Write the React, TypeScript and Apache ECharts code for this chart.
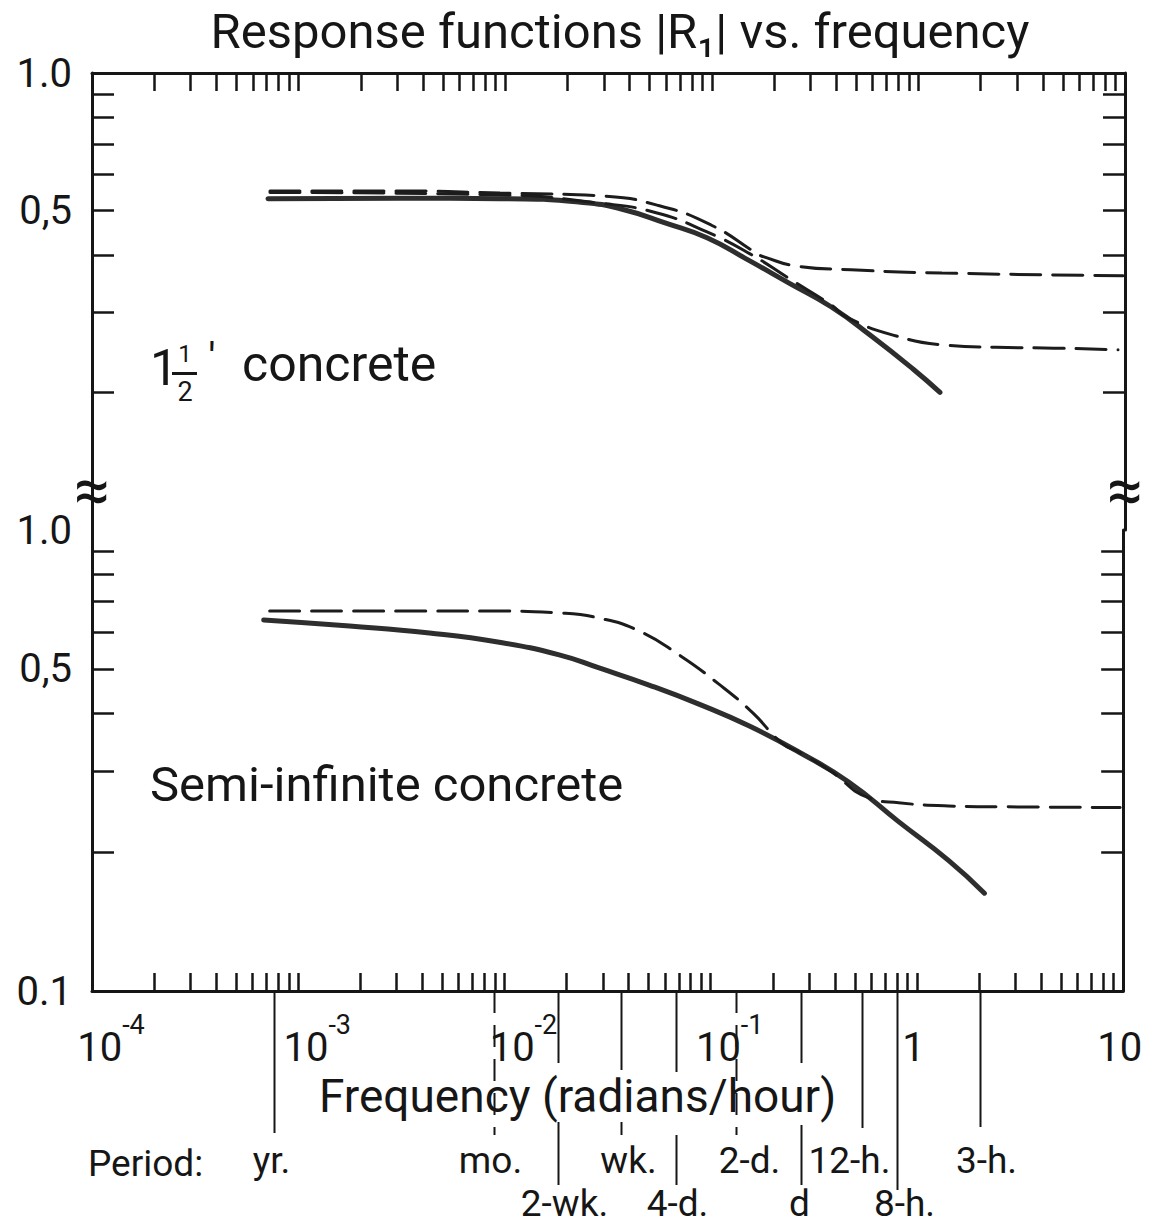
import React, { useEffect, useRef } from 'react';
import * as echarts from 'echarts';

const FONT = 'Roboto, "Liberation Sans", sans-serif';
const INK = '#161616';

const TITLE = 'Response functions |R₁| vs. frequency';
const X_NAME = 'Frequency (radians/hour)';
const TOP_PANEL_LABEL = 'concrete';
const BOTTOM_PANEL_LABEL = 'Semi-infinite concrete';
const PERIOD_HEADER = 'Period:';

// axis ticks / labels
const xDecades = [1e-4, 1e-3, 1e-2, 1e-1, 1];
const xMultipliers = [1, 2, 3, 4, 5, 6, 7, 8, 9];
const xLabelValues = [1e-4, 1e-3, 1e-2, 1e-1, 1, 10];
const yTickValues = [0.2, 0.3, 0.4, 0.5, 0.6, 0.7, 0.8, 0.9];
const yLabelValuesTop = [0.5, 1];
const yLabelValuesBottom = [0.1, 0.5, 1];

// 1 1/2' concrete panel
const topSolidFreq = [7.11e-4, 3.1e-3, 9.44e-3, 0.0238, 0.0376, 0.0594, 0.0948, 0.1497, 0.2365, 0.3775, 0.5963, 0.9417, 1.272];
const topSolidR = [0.531, 0.532, 0.531, 0.521, 0.502, 0.47, 0.436, 0.39, 0.347, 0.308, 0.265, 0.225, 0.2];
const topDashAFreq = [7.27e-4, 3.1e-3, 9.44e-3, 0.0297, 0.0543, 0.0991, 0.1637, 0.1789, 0.2585, 0.4719, 1.301, 9.79];
const topDashAR = [0.552, 0.552, 0.546, 0.538, 0.514, 0.465, 0.404, 0.396, 0.378, 0.371, 0.365, 0.36];
const topDashBFreq = [7.27e-4, 9.44e-3, 0.0288, 0.0543, 0.0948, 0.1531, 0.239, 0.3775, 0.4512, 0.7536, 1.33, 2.375, 4.532, 9.25];
const topDashBR = [0.548, 0.541, 0.519, 0.494, 0.449, 0.402, 0.354, 0.311, 0.292, 0.267, 0.254, 0.251, 0.25, 0.248];

// semi-infinite concrete panel
const botSolidFreq = [6.8e-4, 1.774e-3, 4.325e-3, 9.44e-3, 0.01842, 0.02876, 0.05022, 0.08768, 0.1531, 0.2673, 0.4666, 0.8145, 1.422, 2.124];
const botSolidR = [0.638, 0.619, 0.598, 0.571, 0.536, 0.502, 0.461, 0.419, 0.376, 0.33, 0.284, 0.233, 0.192, 0.163];
const botDashFreq = [7.27e-4, 3.095e-3, 9.44e-3, 0.01842, 0.02876, 0.04493, 0.07017, 0.1096, 0.16, 0.2212, 0.2673, 0.3734, 0.5898, 0.8145, 1.422, 2.483, 9.67];
const botDashR = [0.667, 0.667, 0.667, 0.661, 0.644, 0.604, 0.536, 0.463, 0.401, 0.345, 0.33, 0.302, 0.262, 0.256, 0.252, 0.251, 0.25];

// period markers under the frequency axis
const periodNames = ['yr.', 'mo.', '2-wk.', 'wk.', '4-d.', '2-d.', 'd', '12-h.', '8-h.', '3-h.'];
const periodFreqs = [7.6e-4, 8.9e-3, 0.0182, 0.0367, 0.0679, 0.132, 0.273, 0.539, 0.797, 2.03];
const periodRow = [0, 0, 1, 0, 1, 0, 1, 0, 1, 0];
const periodDashed = [false, true, false, false, false, true, false, false, false, false];
const periodGuides = [
  [[0, 142]], [[0, 144]], [[0, 72], [131, 194]], [[0, 79], [131, 144]], [[0, 81], [144, 194]],
  [[0, 144]], [[0, 72], [134, 194]], [[0, 137]], [[0, 199]], [[0, 136]],
];
const periodLabelDx = [-3, -4, 6, 7, 1, 13, -2, -13, 7, 6];
const periodRowY = [169, 212];

const pairs = (xs: number[], ys: number[]) => xs.map((x, i) => [x, ys[i]]);

function lineSeries(name: string, xs: number[], ys: number[], xi: number, yi: number, dashed: boolean) {
  return {
    type: 'line',
    name,
    xAxisIndex: xi,
    yAxisIndex: yi,
    data: pairs(xs, ys),
    showSymbol: false,
    symbol: 'none',
    smooth: 0.5,
    silent: true,
    clip: false,
    z: dashed ? 3 : 2,
    lineStyle: dashed
      ? { color: '#1c1c1c', width: 3, type: [30, 12], cap: 'round' }
      : { color: '#2e2e2e', width: 5, cap: 'round' },
  };
}

function buildOption() {
  const xTicks = xDecades.flatMap((d) => xMultipliers.map((m) => +(d * m).toPrecision(6))).concat([10]);
  const axisLine = { show: true, onZero: false, lineStyle: { color: INK, width: 3 } };
  const tick = (values: number[], len: number) => ({
    show: true,
    inside: true,
    length: len,
    customValues: values,
    lineStyle: { color: INK, width: 2.5 },
  });
  const yFmt = (v: number) => (Math.abs(v - 1) < 1e-6 ? '1.0' : Math.abs(v - 0.5) < 1e-6 ? '0,5' : '0.1');
  const xFmt = (v: number) => {
    const e = Math.round(Math.log10(v));
    if (e === 0) return '{b|1}{s| }';
    if (e === 1) return '{b|10}{s| }';
    return '{p| }{b|10}{s|-' + Math.abs(e) + '}';
  };
  const yLabelStyle = (values: number[]) => ({
    show: true,
    customValues: values,
    formatter: yFmt,
    fontSize: 40,
    fontFamily: FONT,
    color: INK,
    margin: 20,
  });
  const yAxisBase = (grid: number, side: 'left' | 'right', labels: number[] | null) => ({
    type: 'log',
    gridIndex: grid,
    position: side,
    min: 0.1,
    max: 1,
    axisLine,
    axisTick: tick(yTickValues, 22),
    axisLabel: labels ? yLabelStyle(labels) : { show: false },
    splitLine: { show: false },
    minorTick: { show: false },
  });

  const periodData = periodFreqs.map((f, i) => [f, 0.1, i]);

  return {
    animation: false,
    backgroundColor: '#ffffff',
    title: {
      text: TITLE,
      left: 615,
      textAlign: 'center',
      top: 2,
      textStyle: { fontSize: 49, fontWeight: 'normal', fontFamily: FONT, color: INK },
    },
    grid: [
      { left: 92, top: 73, width: 1033, height: 457 },
      { left: 92, top: 530, width: 1033, height: 461 },
    ],
    xAxis: [
      {
        type: 'log',
        gridIndex: 0,
        position: 'top',
        min: 1e-4,
        max: 10,
        axisLine,
        axisTick: tick(xTicks, 18),
        axisLabel: { show: false },
        splitLine: { show: false },
      },
      {
        type: 'log',
        gridIndex: 1,
        position: 'bottom',
        min: 1e-4,
        max: 10,
        axisLine,
        axisTick: tick(xTicks, 18),
        axisLabel: {
          show: true,
          customValues: xLabelValues,
          formatter: xFmt,
          margin: 20,
          rich: {
            p: { width: 38, fontSize: 26, lineHeight: 56, verticalAlign: 'bottom' },
            b: { fontSize: 40, fontFamily: FONT, color: INK, lineHeight: 56, verticalAlign: 'bottom' },
            s: { fontSize: 27, fontFamily: FONT, color: INK, lineHeight: 24, verticalAlign: 'top' },
          },
        },
        splitLine: { show: false },
        name: X_NAME,
        nameLocation: 'middle',
        nameGap: 82,
        nameTextStyle: { fontSize: 46, fontFamily: FONT, color: INK, padding: [0, 60, 0, 0] },
      },
    ],
    yAxis: [
      yAxisBase(0, 'left', yLabelValuesTop),
      yAxisBase(0, 'right', null),
      yAxisBase(1, 'left', yLabelValuesBottom),
      yAxisBase(1, 'right', null),
    ],
    series: [
      lineSeries('1.5 ft solid', topSolidFreq, topSolidR, 0, 0, false),
      lineSeries('1.5 ft dashed A', topDashAFreq, topDashAR, 0, 0, true),
      lineSeries('1.5 ft dashed B', topDashBFreq, topDashBR, 0, 0, true),
      lineSeries('semi-infinite solid', botSolidFreq, botSolidR, 1, 2, false),
      lineSeries('semi-infinite dashed', botDashFreq, botDashR, 1, 2, true),
      {
        type: 'custom',
        name: 'periods',
        xAxisIndex: 1,
        yAxisIndex: 2,
        clip: false,
        silent: true,
        encode: { x: 0, y: 1 },
        data: periodData,
        renderItem: (params: any, api: any) => {
          const i = api.value(2);
          const pt = api.coord([api.value(0), api.value(1)]);
          const x = Math.round(pt[0]) + 0.5;
          const y0 = pt[1];
          const children: any[] = periodGuides[i].map((seg) => ({
            type: 'line',
            shape: { x1: x, y1: y0 + seg[0], x2: x, y2: y0 + seg[1] },
            style: { stroke: INK, lineWidth: 2, lineDash: periodDashed[i] ? [22, 12] : null },
          }));
          children.push({
            type: 'text',
            x: x + periodLabelDx[i],
            y: y0 + periodRowY[periodRow[i]],
            style: {
              text: periodNames[i],
              fontSize: 37,
              fontFamily: FONT,
              fill: INK,
              align: 'center',
              verticalAlign: 'middle',
            },
          });
          return { type: 'group', children };
        },
      },
    ],
    graphic: [
      { type: 'text', x: 92, y: 490, style: { text: '≈', fontSize: 64, fontFamily: FONT, fill: INK, align: 'center', verticalAlign: 'middle' } },
      { type: 'text', x: 1125, y: 490, style: { text: '≈', fontSize: 64, fontFamily: FONT, fill: INK, align: 'center', verticalAlign: 'middle' } },
      { type: 'text', x: 88, y: 1163, style: { text: PERIOD_HEADER, fontSize: 37, fontFamily: FONT, fill: INK, align: 'left', verticalAlign: 'middle' } },
      { type: 'text', x: 150, y: 784, style: { text: BOTTOM_PANEL_LABEL, fontSize: 49, fontFamily: FONT, fill: INK, align: 'left', verticalAlign: 'middle' } },
      {
        type: 'group',
        children: [
          { type: 'text', x: 150, y: 368, style: { text: '1', fontSize: 50, fontFamily: FONT, fill: INK, align: 'left', verticalAlign: 'middle' } },
          { type: 'text', x: 185, y: 354, style: { text: '1', fontSize: 24, fontFamily: FONT, fill: INK, align: 'center', verticalAlign: 'middle' } },
          { type: 'rect', shape: { x: 172, y: 372, width: 25, height: 3 }, style: { fill: INK } },
          { type: 'text', x: 185, y: 392, style: { text: '2', fontSize: 27, fontFamily: FONT, fill: INK, align: 'center', verticalAlign: 'middle' } },
          { type: 'text', x: 212, y: 358, style: { text: "'", fontSize: 42, fontFamily: FONT, fill: INK, align: 'center', verticalAlign: 'middle' } },
          { type: 'text', x: 242, y: 364, style: { text: TOP_PANEL_LABEL, fontSize: 50, fontFamily: FONT, fill: INK, align: 'left', verticalAlign: 'middle' } },
        ],
      },
    ],
  };
}

export default function App() {
  const ref = useRef<HTMLDivElement>(null);
  useEffect(() => {
    document.body.style.margin = '0';
    const chart = echarts.init(ref.current as HTMLDivElement, null, { renderer: 'svg' });
    chart.setOption(buildOption() as any);
    return () => chart.dispose();
  }, []);
  return <div ref={ref} style={{ width: 1152, height: 1226, background: '#ffffff' }} />;
}
